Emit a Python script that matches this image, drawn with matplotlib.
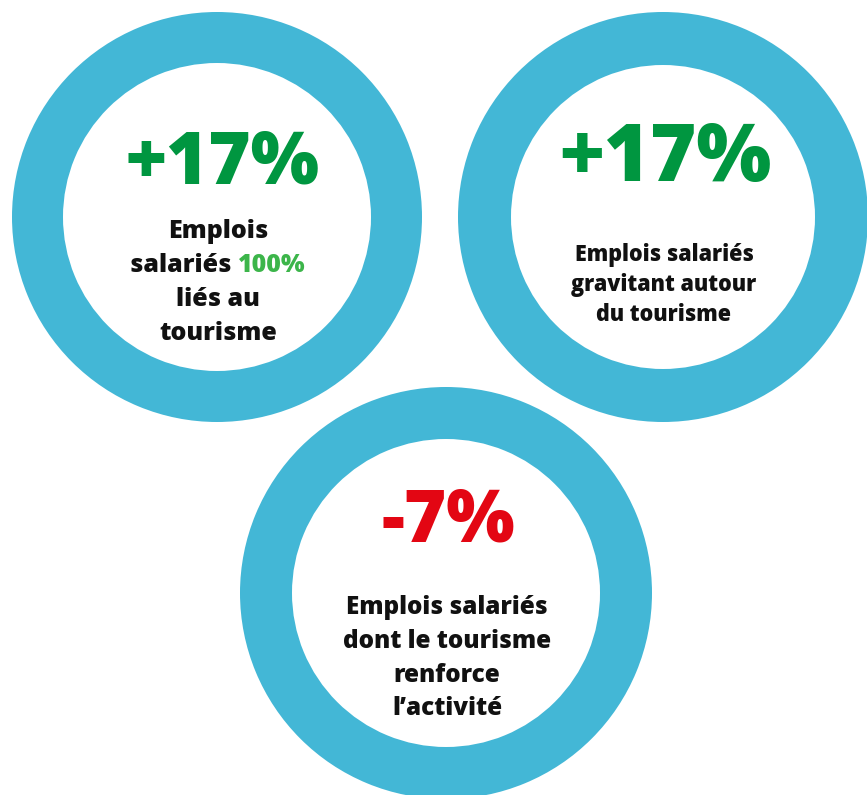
import matplotlib
matplotlib.use('Agg')
import matplotlib.pyplot as plt
from matplotlib.patches import Wedge

# values and labels
values = ["+17%", "+17%", "-7%"]
value_colors = ["#009640", "#009640", "#E30613"]
labels = [
    [[("Emplois", "#111111")],
     [("salariés ", "#111111"), ("100%", "#3CB54A")],
     [("liés au", "#111111")],
     [("tourisme", "#111111")]],
    [[("Emplois salariés", "#111111")],
     [("gravitant autour", "#111111")],
     [("du tourisme", "#111111")]],
    [[("Emplois salariés", "#111111")],
     [("dont le tourisme", "#111111")],
     [("renforce", "#111111")],
     [("l’activité", "#111111")]],
]

# layout (pixels, y down)
W, H = 867, 795
centers = [(217, 217), (663, 217), (446, 593)]
outer_r = [205, 205, 206]
inner_r = [154, 152, 154]
value_dx = [6, 2, 2]
value_y = [165, 160, 522]
value_size = [52, 57, 52]
label_y0 = [231, 255, 608]
label_step = [34, 30, 33.5]
label_size = [18, 15.5, 17.5]
ring_color = "#43B7D6"
FONT = "Open Sans"

fig = plt.figure(figsize=(W / 100, H / 100), dpi=100)
ax = fig.add_axes([0, 0, 1, 1])
ax.set_xlim(0, W)
ax.set_ylim(H, 0)
ax.set_aspect('equal')
ax.axis('off')

for (cx, cy), ro, ri in zip(centers, outer_r, inner_r):
    ax.add_patch(Wedge((cx, cy), ro, 0, 360, width=ro - ri, color=ring_color, lw=0))

fig.canvas.draw()
renderer = fig.canvas.get_renderer()


def centered_line(x, y, parts, size):
    # draw several coloured pieces side by side, centred on x
    texts = []
    for s, c in parts:
        t = ax.text(0, y, s, color=c, fontsize=size, fontweight='heavy',
                    family=FONT, ha='left', va='center')
        texts.append(t)
    widths = []
    for t in texts:
        bb = t.get_window_extent(renderer)
        widths.append(bb.width)
    total = sum(widths)
    x0 = x - total / 2
    for t, w in zip(texts, widths):
        t.set_x(x0)
        x0 += w


for i, (cx, cy) in enumerate(centers):
    ax.text(cx + value_dx[i], value_y[i], values[i], color=value_colors[i],
            fontsize=value_size[i], fontweight='heavy', family=FONT,
            ha='center', va='center')
    for j, parts in enumerate(labels[i]):
        centered_line(cx + 1, label_y0[i] + j * label_step[i], parts, label_size[i])

fig.savefig("out.png", dpi=100, facecolor='white')
